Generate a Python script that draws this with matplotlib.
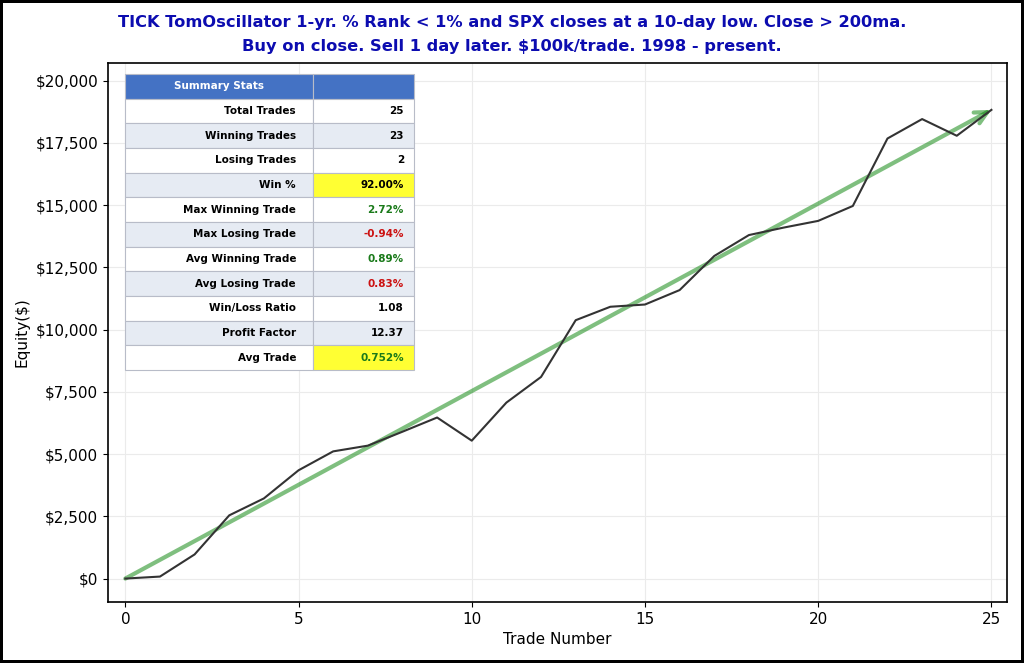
import matplotlib.pyplot as plt
from matplotlib.ticker import FuncFormatter

# equity curve
trade_num = list(range(26))
equity = [0, 80, 970, 2540, 3220, 4350, 5110, 5340, 5900, 6470, 5540, 7070,
          8100, 10380, 10920, 11010, 11590, 12960, 13800, 14100, 14370, 14970,
          17680, 18460, 17790, 18830]

stat_names = ['Total Trades', 'Winning Trades', 'Losing Trades', 'Win %',
              'Max Winning Trade', 'Max Losing Trade', 'Avg Winning Trade',
              'Avg Losing Trade', 'Win/Loss Ratio', 'Profit Factor', 'Avg Trade']
stat_values = ['25', '23', '2', '92.00%', '2.72%', '-0.94%', '0.89%',
               '0.83%', '1.08', '12.37', '0.752%']

title = ("TICK TomOscillator 1-yr. % Rank < 1% and SPX closes at a 10-day low. Close > 200ma.\n"
         "Buy on close. Sell 1 day later. $100k/trade. 1998 - present.")

fig = plt.figure(figsize=(10.24, 6.63), dpi=100)
fig.patch.set_edgecolor('black')
fig.patch.set_linewidth(3)
ax = fig.add_axes([108 / 1024, 61 / 663, 899 / 1024, 539 / 663])

ax.plot(trade_num, equity, color='#333333', linewidth=1.5, zorder=3)
ax.annotate('', xy=(trade_num[-1], equity[-1]), xytext=(trade_num[0], equity[0]),
            arrowprops=dict(arrowstyle='->', color='green', alpha=0.5, lw=3,
                            mutation_scale=22, shrinkA=0, shrinkB=0), zorder=2)

ax.set_xlim(-0.5, 25.45)
ax.set_ylim(-0.05 * max(equity), 1.1 * max(equity))
ax.yaxis.set_major_formatter(FuncFormatter(lambda v, p: f'${v:,.0f}'))
ax.grid(True, color='#ebebeb', linewidth=0.8)
ax.set_axisbelow(True)
ax.tick_params(labelsize=11)
ax.set_xlabel('Trade Number', fontsize=11)
ax.set_ylabel('Equity($)', fontsize=11)
for s in ax.spines.values():
    s.set_linewidth(1.2)

fig.text(0.5, 0.978, title, ha='center', va='top', fontsize=11.7,
         fontweight='bold', color='#0c0cb0', linespacing=1.75)

# summary table
cells = [[n, v] for n, v in zip(stat_names, stat_values)]
tbl = ax.table(cellText=cells, colLabels=['Summary Stats', ''],
               bbox=[17 / 899, 232 / 539, 289 / 899, 296 / 539],
               colWidths=[188, 101], zorder=5)
tbl.auto_set_font_size(False)
tbl.set_fontsize(7.5)
for (r, c), cell in tbl.get_celld().items():
    cell.set_edgecolor('#b8bcc8')
    cell.set_linewidth(0.8)
    if r == 0:
        cell.set_facecolor('#4472c4')
        cell.get_text().set_color('white')
        cell.get_text().set_fontweight('bold')
        continue
    cell.set_facecolor('#e6ebf3' if r % 2 == 0 else 'white')
    txt = cell.get_text()
    txt.set_fontweight('bold')
    cell._loc = 'right'
    txt.set_ha('right')
    cell.PAD = 0.09 if c == 0 else 0.1
    if c == 1:
        name = stat_names[r - 1]
        if name in ('Win %', 'Avg Trade'):
            cell.set_facecolor('#ffff33')
        if name in ('Max Winning Trade', 'Avg Winning Trade', 'Avg Trade'):
            txt.set_color('#1a7a1a')
        if name in ('Max Losing Trade', 'Avg Losing Trade'):
            txt.set_color('#cc1111')

fig.savefig('out.png', dpi=100, edgecolor=fig.get_edgecolor())
